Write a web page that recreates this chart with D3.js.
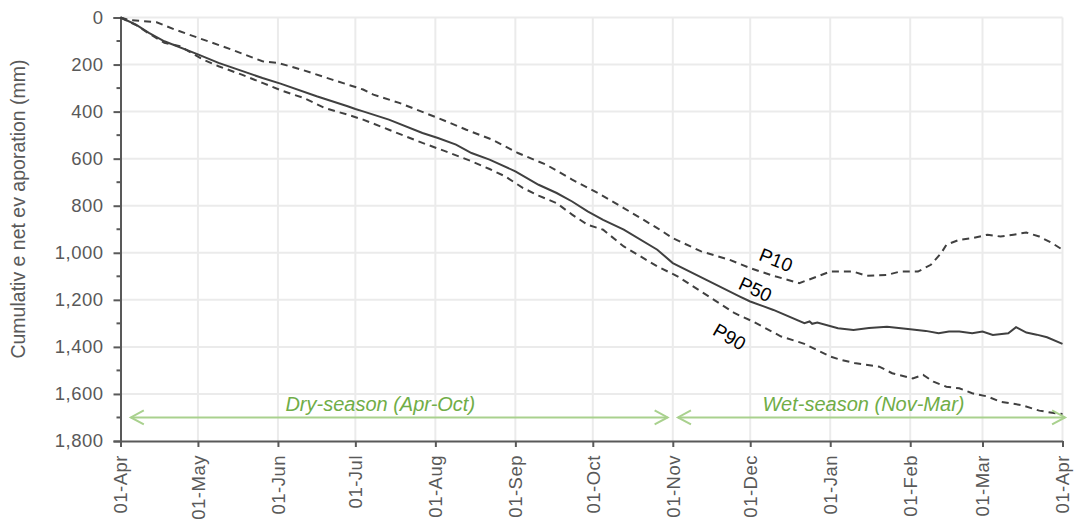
<!DOCTYPE html>
<html>
<head>
<meta charset="utf-8">
<script src="https://cdn.jsdelivr.net/npm/d3@7"></script>
<style>
  html, body { margin: 0; padding: 0; background: #ffffff; }
  svg { display: block; font-family: "Liberation Sans", Arial, sans-serif; }
</style>
</head>
<body>
<svg id="chart" width="1077" height="522"></svg>
<script>
// ---------------- DATA ----------------
// days after 01-Apr, cumulative net evaporation (mm)
const p50Days   = [0, 6, 11, 17, 30, 38, 55, 62, 76, 88, 91, 94, 104, 117, 123, 130, 136, 143, 153, 162, 169, 175, 181, 187, 195, 208, 214, 227, 240, 244, 253, 265, 267, 268, 270, 278, 284, 290, 297, 306, 312, 317, 321, 325, 330, 334, 338, 344, 347, 351, 355, 359, 365];
const p50Values = [0, 30, 65, 101, 157, 193, 257, 281, 335, 377, 389, 399, 434, 491, 512, 540, 576, 604, 654, 711, 746, 782, 824, 860, 902, 987, 1044, 1115, 1186, 1207, 1243, 1299, 1292, 1302, 1296, 1321, 1328, 1320, 1314, 1325, 1332, 1342, 1335, 1335, 1342, 1335, 1349, 1342, 1316, 1339, 1348, 1359, 1387];

const p10Days   = [0, 3, 14, 21, 30, 43, 55, 61, 70, 82, 94, 98, 108, 123, 134, 144, 154, 165, 175, 185, 195, 208, 214, 225, 236, 244, 248, 254, 263, 270, 275, 284, 289, 297, 302, 309, 314, 318, 320, 325, 330, 336, 341, 346, 351, 356, 361, 365];
const p10Values = [0, 10, 20, 51, 86, 136, 186, 193, 221, 264, 306, 328, 363, 427, 477, 519, 576, 626, 689, 746, 810, 895, 938, 994, 1030, 1065, 1080, 1101, 1129, 1101, 1080, 1080, 1098, 1094, 1080, 1080, 1051, 1001, 966, 945, 938, 923, 931, 923, 914, 931, 959, 987];

const p90Days   = [0, 6, 11, 17, 23, 32, 38, 47, 55, 63, 71, 79, 88, 94, 104, 117, 126, 136, 143, 149, 156, 162, 169, 175, 181, 187, 195, 208, 216, 227, 238, 245, 256, 265, 275, 279, 285, 294, 299, 307, 311, 315, 320, 325, 330, 336, 341, 349, 356, 361, 365];
const p90Values = [0, 32, 68, 108, 122, 179, 207, 243, 278, 313, 342, 384, 413, 434, 477, 533, 569, 611, 644, 675, 725, 757, 789, 838, 881, 902, 973, 1058, 1101, 1179, 1257, 1292, 1356, 1387, 1441, 1455, 1470, 1484, 1512, 1534, 1519, 1548, 1569, 1576, 1597, 1611, 1633, 1647, 1671, 1680, 1685];

const seriesNames = ["P10", "P50", "P90"];
// label anchor (day, value) and angle for the in-chart series labels
const labelDays   = [254, 246, 236];
const labelValues = [1030, 1155, 1357];
const labelAngles = [22, 25, 30];

const seasonLabels = ["Dry-season (Apr-Oct)", "Wet-season (Nov-Mar)"];
const seasonStart  = [4, 216];
const seasonEnd    = [212, 366];
const seasonLevel  = 1700;

const yTicks      = [0, 200, 400, 600, 800, 1000, 1200, 1400, 1600, 1800];
const yMinorTicks = [100, 300, 500, 700, 900, 1100, 1300, 1500, 1700];
const yTitle = "Cumulativ e net ev aporation (mm)";

// ---------------- CHART ----------------
const svg = d3.select("#chart");
const start = new Date(Date.UTC(2018, 3, 1));
const end   = new Date(Date.UTC(2019, 3, 1));
const dayToDate = d => d3.utcDay.offset(start, d);

const x = d3.scaleUtc().domain([start, end]).range([120.5, 1062.5]);
const y = d3.scaleLinear().domain([0, 1800]).range([17.5, 441]);

const axisColor = "#595959";
const gridColor = "#ebebeb";
const lineColor = "#404040";
const monthTicks = d3.utcMonth.range(start, d3.utcDay.offset(end, 1));

// gridlines
const grid = svg.append("g");
grid.selectAll("line.h").data(yTicks.filter(v => v < 1800)).join("line")
  .attr("x1", x.range()[0]).attr("x2", x.range()[1])
  .attr("y1", d => y(d)).attr("y2", d => y(d))
  .attr("stroke", gridColor).attr("stroke-width", 2);
grid.selectAll("line.v").data(monthTicks.slice(1)).join("line")
  .attr("x1", d => x(d)).attr("x2", d => x(d))
  .attr("y1", y(0)).attr("y2", y(1800))
  .attr("stroke", gridColor).attr("stroke-width", 2);

// y axis
const yAxis = svg.append("g").attr("transform", `translate(${x.range()[0]},0)`)
  .call(d3.axisLeft(y).tickValues(yTicks).tickFormat(d3.format(",")).tickSize(7).tickPadding(10));
yAxis.select(".domain").attr("stroke", axisColor).attr("stroke-width", 2);
yAxis.selectAll(".tick line").attr("stroke", axisColor).attr("stroke-width", 2);
yAxis.selectAll(".tick text").attr("fill", axisColor).attr("font-size", 18.5)
  .attr("letter-spacing", 0.5)
  .attr("font-family", "'Liberation Sans', Arial, sans-serif");
yAxis.selectAll("line.minor").data(yMinorTicks).join("line").attr("class", "minor")
  .attr("x1", -4).attr("x2", 0).attr("y1", d => y(d)).attr("y2", d => y(d))
  .attr("stroke", axisColor).attr("stroke-width", 2);

// x axis
const xAxis = svg.append("g").attr("transform", `translate(0,${y.range()[1]})`)
  .call(d3.axisBottom(x).tickValues(monthTicks).tickFormat(d3.utcFormat("%d-%b")).tickSize(6).tickSizeOuter(0));
xAxis.select(".domain").attr("stroke", axisColor).attr("stroke-width", 2);
xAxis.selectAll(".tick line").attr("stroke", axisColor).attr("stroke-width", 2);
xAxis.selectAll(".tick text")
  .attr("fill", axisColor).attr("font-size", 18.5)
  .attr("letter-spacing", 0.5)
  .attr("font-family", "'Liberation Sans', Arial, sans-serif")
  .attr("text-anchor", "end")
  .attr("transform", "rotate(-90)")
  .attr("x", -14).attr("y", 0).attr("dy", "0.35em");

// y title
svg.append("text")
  .attr("transform", "translate(25,209) rotate(-90)")
  .attr("text-anchor", "middle")
  .attr("fill", axisColor).attr("font-size", 19.5)
  .text(yTitle);

// series
const makeSeries = (days, vals) => days.map((d, i) => ({ date: dayToDate(d), v: vals[i] }));
const series = [
  { name: seriesNames[0], data: makeSeries(p10Days, p10Values), dash: "7,5" },
  { name: seriesNames[1], data: makeSeries(p50Days, p50Values), dash: null },
  { name: seriesNames[2], data: makeSeries(p90Days, p90Values), dash: "7,5" }
];
const line = d3.line().x(d => x(d.date)).y(d => y(d.v));
svg.append("g").selectAll("path").data(series).join("path")
  .attr("d", d => line(d.data))
  .attr("fill", "none")
  .attr("stroke", lineColor)
  .attr("stroke-width", 2)
  .attr("stroke-dasharray", d => d.dash);

// series labels
svg.append("g").selectAll("text").data(seriesNames).join("text")
  .attr("transform", (d, i) => `translate(${x(dayToDate(labelDays[i]))},${y(labelValues[i])}) rotate(${labelAngles[i]})`)
  .attr("text-anchor", "middle").attr("dy", "0.35em")
  .attr("font-size", 19).attr("fill", "#000")
  .text(d => d);

// season arrows
const arrowColor = "#a9d18e";
const seasons = svg.append("g");
seasonLabels.forEach((lab, i) => {
  const x1 = x(dayToDate(seasonStart[i])), x2 = x(dayToDate(seasonEnd[i])), yy = y(seasonLevel);
  seasons.append("line").attr("x1", x1).attr("x2", x2).attr("y1", yy).attr("y2", yy)
    .attr("stroke", arrowColor).attr("stroke-width", 2);
  seasons.append("path")
    .attr("d", `M${x1 + 13},${yy - 7}L${x1},${yy}L${x1 + 13},${yy + 7}M${x2 - 13},${yy - 7}L${x2},${yy}L${x2 - 13},${yy + 7}`)
    .attr("fill", "none").attr("stroke", arrowColor).attr("stroke-width", 2);
  seasons.append("text")
    .attr("x", (x1 + x2) / 2 + (i === 0 ? -19 : -8)).attr("y", yy - 6)
    .attr("text-anchor", "middle")
    .attr("font-size", 20).attr("font-style", "italic").attr("fill", "#70ad47")
    .text(lab);
});
</script>
</body>
</html>
